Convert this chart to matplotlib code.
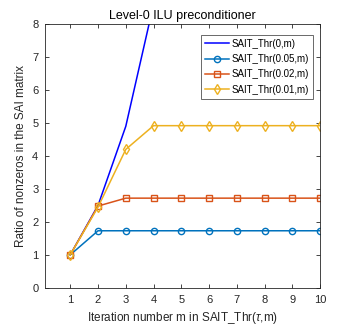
import matplotlib
matplotlib.use('Agg')
import matplotlib.pyplot as plt

plt.rcParams['font.family'] = ['Liberation Sans', 'DejaVu Sans']
plt.rcParams['mathtext.fontset'] = 'custom'
plt.rcParams['mathtext.it'] = 'Liberation Sans:italic'

# Data
iters = [1, 2, 3, 4, 5, 6, 7, 8, 9, 10]
thr_0 = [1, 2.5, 4.9, 8.6, 13.1, 17.5, 21.6, 25.2, 28.3, 30.9]
thr_005 = [1, 1.73, 1.73, 1.73, 1.73, 1.73, 1.73, 1.73, 1.73, 1.73]
thr_002 = [1, 2.48, 2.72, 2.72, 2.72, 2.72, 2.72, 2.72, 2.72, 2.72]
thr_001 = [1, 2.45, 4.2, 4.92, 4.92, 4.92, 4.92, 4.92, 4.92, 4.92]
labels = ['SAIT_Thr(0,m)', 'SAIT_Thr(0.05,m)', 'SAIT_Thr(0.02,m)', 'SAIT_Thr(0.01,m)']

axis_col = '#262626'

fig = plt.figure(figsize=(3.54, 3.27), dpi=100)
ax = fig.add_axes([0.128, 0.12, 0.776, 0.806])

ax.plot(iters, thr_0, color='#0000FF', lw=1.1, label=labels[0])
ax.plot(iters, thr_005, color='#0072BD', lw=1.1, marker='o', ms=4.5,
        mfc='none', mew=1.0, label=labels[1])
ax.plot(iters, thr_002, color='#D95319', lw=1.1, marker='s', ms=4.5,
        mfc='none', mew=1.0, label=labels[2])
ax.plot(iters, thr_001, color='#EDB120', lw=1.1, marker='d', ms=5,
        mfc='none', mew=1.0, label=labels[3])

ax.set_xlim(0.1, 10)
ax.set_ylim(0, 8)
ax.set_xticks(range(1, 11))
ax.set_yticks(range(0, 9))
ax.tick_params(direction='in', top=True, right=True, labelsize=8,
               colors=axis_col, length=3, width=0.6, pad=5)
for s in ax.spines.values():
    s.set_color(axis_col)
    s.set_linewidth(0.6)

ax.set_title('Level-0 ILU preconditioner', fontsize=9, color='black', pad=4)
ax.set_xlabel(r'Iteration number m in SAIT_Thr($\tau$,m)', fontsize=8.5, color=axis_col)
ax.set_ylabel('Ratio of nonzeros in the SAI matrix', fontsize=8.5, color=axis_col)

leg = ax.legend(loc='upper right', bbox_to_anchor=(0.975, 0.96), fontsize=7,
                frameon=True, fancybox=False, edgecolor=axis_col,
                handlelength=2.5, borderaxespad=0.0, labelspacing=0.55,
                handletextpad=0.3, borderpad=0.4)
leg.get_frame().set_linewidth(0.6)

fig.savefig('out.png', dpi=100)
